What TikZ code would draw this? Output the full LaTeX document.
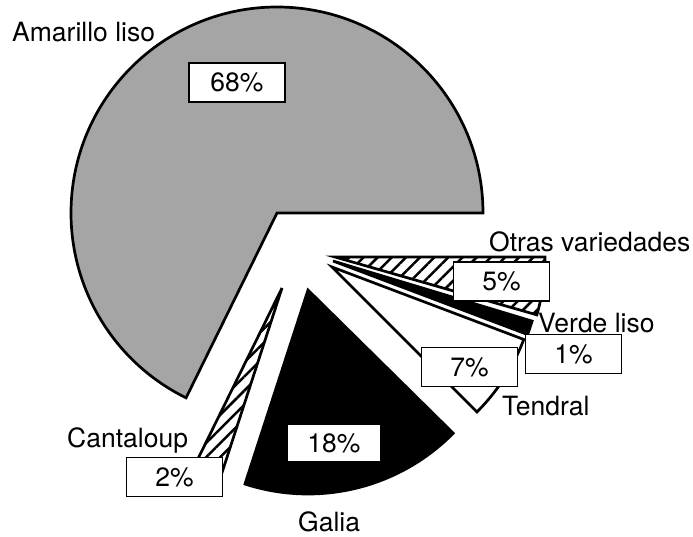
\documentclass[tikz,border=0pt]{standalone}
\usepackage{fontspec}
\setmainfont{TeX Gyre Heros}
\usetikzlibrary{patterns.meta}
\definecolor{amar}{RGB}{165,165,165}
\begin{document}
\begin{tikzpicture}[x=1pt,y=1pt,
  slice/.style={draw=black,line width=2.7pt,line join=miter},
  pct/.style={draw=black,fill=white,line width=1.3pt,minimum width=96pt,minimum height=39pt,inner sep=0pt,font=\fontsize{26.5}{30}\selectfont},
  lbl/.style={anchor=base west,inner sep=0pt,font=\fontsize{26.5}{30}\selectfont},
  hatch/.style={pattern={Lines[angle=45,distance=10pt,line width=2.5pt]},pattern color=black}]
\useasboundingbox (0,0) rectangle (693,536);
\fill[white] (0,0) rectangle (693,536);
% Amarillo liso 68%
\filldraw[slice,fill=amar] (277,323) -- (483,323) arc[start angle=0,end angle=243.8,radius=206] -- cycle;
% Otras variedades 5%
\draw[slice,hatch] (335,279) -- (545,279) arc[start angle=0,end angle=-16,radius=210] -- cycle;
% Verde liso 1%
\filldraw[slice,fill=black] (333,275) -- ++(-16.8:208) arc[start angle=-16.8,end angle=-20.7,radius=208] -- cycle;
% Tendral 7%
\filldraw[slice,fill=white] (332,269) -- ++(-20.7:205) arc[start angle=-20.7,end angle=-45,radius=205] -- cycle;
% Galia 18%
\filldraw[slice,fill=black] (308,246) -- ++(-44.6:204) arc[start angle=-44.6,end angle=-108,radius=204] -- cycle;
% Cantaloup 2%
\draw[slice,hatch] (282,248) -- ++(-108:205) arc[start angle=-108,end angle=-116.2,radius=205] -- cycle;
% percentage boxes
\node[pct] (p68) at (237,453.5) {68\%};
\node[pct] (p5) at (501.5,254.5) {5\%};
\node[pct] (p1) at (573.5,182) {1\%};
\node[pct] (p7) at (469.5,169) {7\%};
\node[pct,minimum width=94pt,minimum height=38pt] (p18) at (334,93) {18\%};
\node[pct] (p2) at (174.5,59) {2\%};
% labels
\node[lbl] (lAm) at (12,494) {Amarillo liso};
\node[lbl] (lOt) at (489,284) {Otras variedades};
\node[lbl] (lVe) at (538,204) {Verde liso};
\node[lbl] (lTe) at (502,121) {Tendral};
\node[lbl] (lCa) at (67,89) {Cantaloup};
\node[lbl] (lGa) at (298,5) {Galia};
\end{tikzpicture}
\end{document}
